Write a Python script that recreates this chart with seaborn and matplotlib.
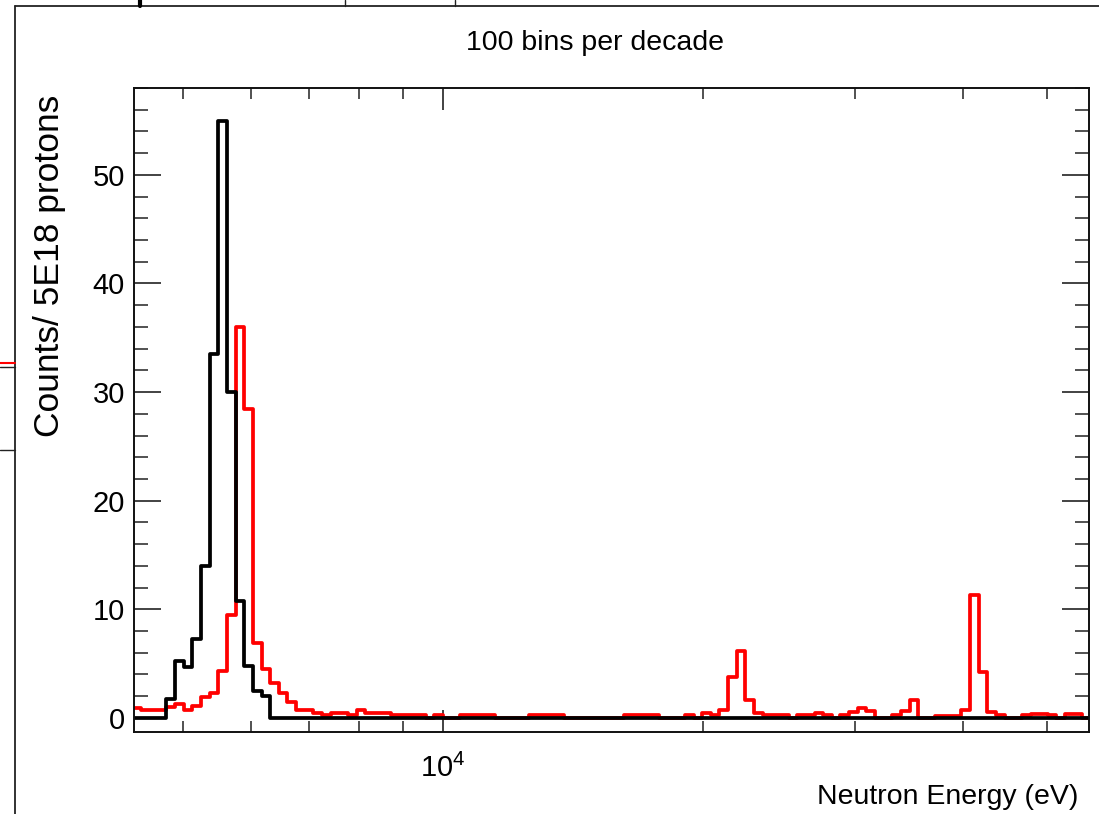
import numpy as np
import pandas as pd
import matplotlib
matplotlib.use("Agg")
import matplotlib.pyplot as plt
from matplotlib.ticker import MultipleLocator, NullFormatter, LogLocator
from matplotlib.lines import Line2D
import seaborn as sns

# ---------------- data ----------------
title = "100 bins per decade"
x_label = "Neutron Energy (eV)"
y_label = "Counts/ 5E18 protons"

bins_per_decade = 100
first_edge_exp = 364          # first bin edge = 10**(364/100) eV
n_bins = 111

# counts per bin (log-spaced bins, 100 per decade), starting at 10**3.64 eV
red_counts = [
    0.95, 0.7, 0.7, 0.7, 1.0, 1.3, 0.7, 1.1, 1.9, 2.3,       # 364-373
    4.3, 9.5, 36.0, 28.4, 6.9, 4.5, 3.2, 2.3, 1.5, 0.75,     # 374-383
    0.75, 0.43, 0.3, 0.43, 0.43, 0.3, 0.75, 0.45, 0.45, 0.45,  # 384-393
    0.3, 0.3, 0.3, 0.3, 0.0, 0.3, 0.0, 0.0, 0.25, 0.25,      # 394-403
    0.25, 0.25, 0.0, 0.0, 0.0, 0.0, 0.25, 0.25, 0.25, 0.25,  # 404-413
    0.0, 0.0, 0.0, 0.0, 0.0, 0.0, 0.0, 0.25, 0.25, 0.25,     # 414-423
    0.25, 0.0, 0.0, 0.0, 0.3, 0.0, 0.45, 0.3, 0.74, 3.8,     # 424-433
    6.2, 1.66, 0.45, 0.3, 0.3, 0.3, 0.0, 0.3, 0.3, 0.45,     # 434-443
    0.3, 0.0, 0.3, 0.58, 0.9, 0.6, 0.0, 0.0, 0.3, 0.65,      # 444-453
    1.66, 0.0, 0.0, 0.2, 0.2, 0.2, 0.7, 11.3, 4.2, 0.55,     # 454-463
    0.25, 0.0, 0.0, 0.25, 0.4, 0.4, 0.25, 0.0, 0.4, 0.4,     # 464-473
    0.0,                                                     # 474
]
black_counts = [
    0.0, 0.0, 0.0, 0.0, 1.7, 5.2, 4.7, 7.3, 14.0, 33.5,      # 364-373
    55.0, 30.0, 10.8, 4.8, 2.5, 2.0,                          # 374-379
] + [0.0] * 95                                                # 380-474

x_min_exp, x_max_exp = 3.6424, 4.7477
y_min, y_max = -1.3, 58.0

# ---------------- build frame ----------------
exps = (first_edge_exp + np.arange(n_bins) + 0.5) / bins_per_decade
centers = 10 ** exps
log_edges = list((first_edge_exp + np.arange(n_bins + 1)) / bins_per_decade)
df = pd.DataFrame({
    "energy": np.concatenate([centers, centers]),
    "counts": np.concatenate([red_counts, black_counts]),
    "series": ["red"] * n_bins + ["black"] * n_bins,
})

# ---------------- style ----------------
sns.set_style("ticks")
plt.rcParams["font.family"] = ["Liberation Sans", "DejaVu Sans"]
plt.rcParams["mathtext.fontset"] = "custom"
plt.rcParams["mathtext.rm"] = "Liberation Sans"
plt.rcParams["mathtext.it"] = "Liberation Sans:italic"
plt.rcParams["mathtext.bf"] = "Liberation Sans:bold"
plt.rcParams["text.color"] = "black"
plt.rcParams["axes.labelcolor"] = "black"
plt.rcParams["xtick.labelcolor"] = "black"
plt.rcParams["ytick.labelcolor"] = "black"

fig = plt.figure(figsize=(10.99, 8.14), dpi=100)
ax = fig.add_axes([134 / 1099, 1 - 732 / 814, 955 / 1099, 644 / 814])

for name, col in [("red", "#ff0000"), ("black", "#000000")]:
    sub = df[df["series"] == name]
    sns.histplot(data=sub, x="energy", weights="counts", bins=log_edges,
                 log_scale=True, element="step", fill=False,
                 color=col, linewidth=2.7, ax=ax)

ax.set_xlim(10 ** x_min_exp, 10 ** x_max_exp)
ax.set_ylim(y_min, y_max)

ax.yaxis.set_major_locator(MultipleLocator(10))
ax.yaxis.set_minor_locator(MultipleLocator(2))
ax.xaxis.set_major_locator(LogLocator(base=10))
ax.xaxis.set_minor_locator(LogLocator(base=10, subs=np.arange(2, 10)))
ax.xaxis.set_minor_formatter(NullFormatter())

for s in ax.spines.values():
    s.set_linewidth(1.4)
    s.set_color("#111111")

ax.tick_params(axis="y", which="major", direction="in", length=19.5, width=1.2,
               right=True, left=True, labelsize=21, pad=6.5, color="#222222")
ax.tick_params(axis="y", which="minor", direction="in", length=10, width=1.1,
               right=True, left=True, color="#222222")
ax.tick_params(axis="x", which="major", direction="in", length=16, width=1.2,
               top=True, bottom=True, labelsize=21, pad=16, color="#222222")
ax.tick_params(axis="x", which="minor", direction="in", length=8, width=1.1,
               top=True, bottom=True, color="#222222")

ax.set_xlabel(x_label, fontsize=20.5, loc="right")
ax.xaxis.set_label_coords(0.9885, -0.08)
ax.set_ylabel(y_label, fontsize=25.5, loc="top")
ax.yaxis.set_label_coords(-0.071, 0.989)

fig.text(595 / 1099, 1 - 43 / 814, title, ha="center", va="center", fontsize=20.5)

# outer canvas frame remnants
def fl(xs, ys, **kw):
    fig.add_artist(Line2D([x / 1099 for x in xs], [1 - y / 814 for y in ys],
                          transform=fig.transFigure, **kw))

fl([15, 1099], [6, 6], color="#222222", lw=1.3)
fl([15, 15], [6, 814], color="#222222", lw=1.3)
fl([140, 140], [0, 6], color="#000000", lw=3)
fl([345, 345], [0, 6], color="#222222", lw=1)
fl([455, 455], [0, 6], color="#222222", lw=1)
fl([0, 15], [363, 363], color="#ff0000", lw=1.5)
fl([0, 15], [367, 367], color="#222222", lw=1)
fl([0, 15], [450, 450], color="#222222", lw=1)

fig.savefig("out.png", dpi=100)
